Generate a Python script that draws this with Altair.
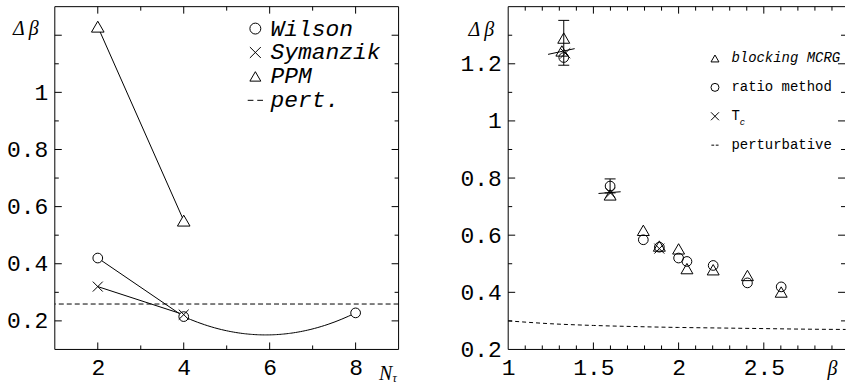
import altair as alt
import pandas as pd

# ---------------- left panel data ----------------
nt_wilson = [2, 4, 8]
wilson = [0.42, 0.215, 0.228]
nt_sym = [2, 4]
symanzik = [0.32, 0.222]
nt_ppm = [2, 4]
ppm = [1.23, 0.551]
pert_left = [0.259]

left_series = ["Wilson", "Symanzik", "PPM", "pert."]
left_x_labels = [2, 4, 6, 8]
left_y_labels = [0.2, 0.4, 0.6, 0.8, 1.0]
left_x_major = [2, 4, 6, 8]
left_x_minor = [3, 5, 7]
left_y_major = [0.2, 0.4, 0.6, 0.8, 1.0, 1.2]
left_y_minor = [0.3, 0.5, 0.7, 0.9, 1.1]

# ---------------- right panel data ----------------
mcrg_beta = [1.326, 1.315, 1.598, 1.793, 1.887, 2.0, 2.049, 2.203, 2.404, 2.602]
mcrg_val = [1.29, 1.245, 0.741, 0.617, 0.562, 0.552, 0.483, 0.479, 0.459, 0.401]
ratio_beta = [1.326, 1.598, 1.793, 1.887, 2.0, 2.049, 2.203, 2.404, 2.602]
ratio_val = [1.222, 0.772, 0.584, 0.558, 0.520, 0.508, 0.494, 0.433, 0.419]
tc_beta = [1.335, 1.6, 1.887]
tc_val = [1.237, 0.748, 0.553]
err_beta = [1.326, 1.598]
err_lo = [1.195, 0.748]
err_hi = [1.352, 0.797]
tcbar_b1 = [1.234, 1.53]
tcbar_b2 = [1.39, 1.66]
tcbar_v1 = [1.233, 0.746]
tcbar_v2 = [1.253, 0.752]
pert_beta = [1.0, 1.25, 1.5, 1.75, 2.0, 2.25, 2.5, 2.75, 2.98]
pert_val = [0.300, 0.290, 0.284, 0.280, 0.277, 0.275, 0.273, 0.271, 0.270]

right_series = ["blocking MCRG", "ratio method", "T", "perturbative"]
right_x_labels = [1, 1.5, 2, 2.5]
right_y_labels = [0.2, 0.4, 0.6, 0.8, 1.0, 1.2]
right_x_major = [1.5, 2.0, 2.5]
right_x_minor = [1.1, 1.2, 1.3, 1.4, 1.6, 1.7, 1.8, 1.9, 2.1, 2.2, 2.3, 2.4, 2.6, 2.7, 2.8, 2.9]
right_y_major = [0.4, 0.6, 0.8, 1.0, 1.2]
right_y_minor = [0.3, 0.5, 0.7, 0.9, 1.1, 1.3]

# ---------------- geometry / styles ----------------
LW, LH = 345, 344
RW, RH = 338, 344
MAJ, MIN = 7, 4

XPATH = "M-1,-1L1,1M1,-1L-1,1"
DASH_L = "M-1.4,0L-0.35,0M0.35,0L1.4,0"
DASH_R = "M-0.9,0L-0.2,0M0.2,0L0.9,0"

LX_SC = alt.Scale(domain=[1, 9], nice=False, zero=False)
LY_SC = alt.Scale(domain=[0.1, 1.3], nice=False, zero=False)
RX_SC = alt.Scale(domain=[1, 1 + RW / 171.0], nice=False, zero=False)
RY_SC = alt.Scale(domain=[0.2, 1.4], nice=False, zero=False)

LX_AX = alt.Axis(values=left_x_labels, format="~g", title="N", titleX=331.5, titleY=24)
LY_AX = alt.Axis(values=left_y_labels, format="~g", title="Δ\u2009β", titleX=-29.5, titleY=22)
RX_AX = alt.Axis(values=right_x_labels, format="~g", title="β", titleX=325, titleY=19)
RY_AX = alt.Axis(values=right_y_labels, format="~g", title="Δ\u2009β", titleX=-27.5, titleY=23)

L_SHAPE_SC = alt.Scale(domain=left_series, range=["circle", XPATH, "triangle-up", DASH_L])
R_SHAPE_SC = alt.Scale(domain=right_series, range=["triangle-up", "circle", XPATH, DASH_R])

L_LEG = alt.Legend(orient="none", legendX=189.75, legendY=10.5, title=None,
                   labelFont="Liberation Mono", labelFontSize=23, labelFontStyle="italic",
                   labelColor="black", symbolSize=120, rowPadding=0, labelOffset=3.75,
                   symbolStrokeColor="black", symbolFillColor="transparent", symbolOpacity=1,
                   symbolStrokeWidth=1, labelLimit=0, padding=0)
R_LEG = alt.Legend(orient="none", legendX=200.5, legendY=45, title=None,
                   labelFont="Liberation Mono", labelFontSize=14, labelColor="black",
                   symbolSize=64, rowPadding=15, labelOffset=9.5,
                   symbolStrokeColor="black", symbolFillColor="transparent", symbolOpacity=1,
                   symbolStrokeWidth=1, labelLimit=0, padding=0,
                   labelFontStyle=alt.ExprRef(expr="datum.label === 'blocking MCRG' ? 'italic' : 'normal'"))


def one():
    return alt.Chart(pd.DataFrame({"k": [0]}))


def frame(W, H, right=True):
    layers = [
        one().mark_rule(color="black", strokeWidth=1).encode(x=alt.value(0), x2=alt.value(W), y=alt.value(0)),
        one().mark_rule(color="black", strokeWidth=1).encode(x=alt.value(0), x2=alt.value(W), y=alt.value(H)),
        one().mark_rule(color="black", strokeWidth=1).encode(x=alt.value(0), y=alt.value(0), y2=alt.value(H)),
    ]
    if right:
        layers.append(one().mark_rule(color="black", strokeWidth=1).encode(x=alt.value(W), y=alt.value(0), y2=alt.value(H)))
    return layers


def xticks(vals, length, H, sc, ax):
    df = pd.DataFrame({"v": vals})
    b = alt.Chart(df).mark_rule(color="black", strokeWidth=1).encode(
        x=alt.X("v:Q", scale=sc, axis=ax), y=alt.value(H), y2=alt.value(H - length))
    t = alt.Chart(df).mark_rule(color="black", strokeWidth=1).encode(
        x=alt.X("v:Q", scale=sc, axis=ax), y=alt.value(0), y2=alt.value(length))
    return [b, t]


def yticks(vals, length, W, sc, ax):
    df = pd.DataFrame({"v": vals})
    l = alt.Chart(df).mark_rule(color="black", strokeWidth=1).encode(
        y=alt.Y("v:Q", scale=sc, axis=ax), x=alt.value(0), x2=alt.value(length))
    r = alt.Chart(df).mark_rule(color="black", strokeWidth=1).encode(
        y=alt.Y("v:Q", scale=sc, axis=ax), x=alt.value(W), x2=alt.value(W - length))
    return [l, r]


# ---------------- left chart ----------------
df_w = pd.DataFrame({"series": ["Wilson"] * len(nt_wilson), "nt": nt_wilson, "val": wilson})
df_s = pd.DataFrame({"series": ["Symanzik"] * len(nt_sym), "nt": nt_sym, "val": symanzik})
df_p = pd.DataFrame({"series": ["PPM"] * len(nt_ppm), "nt": nt_ppm, "val": ppm})
df_straight = pd.concat([df_w.iloc[:2], df_s, df_p], ignore_index=True)

left_lines = alt.Chart(df_straight).mark_line(color="black", strokeWidth=1).encode(
    x=alt.X("nt:Q", scale=LX_SC, axis=LX_AX),
    y=alt.Y("val:Q", scale=LY_SC, axis=LY_AX),
    detail="series:N",
)

wilson_fit = alt.Chart(df_w).transform_regression(
    "nt", "val", method="poly", order=2, extent=[4, 8]
).mark_line(color="black", strokeWidth=1).encode(
    x=alt.X("nt:Q", scale=LX_SC, axis=LX_AX),
    y=alt.Y("val:Q", scale=LY_SC, axis=LY_AX),
)

left_pert = alt.Chart(pd.DataFrame({"v": pert_left})).mark_rule(
    color="black", strokeWidth=1, strokeDash=[5, 3]).encode(
    y=alt.Y("v:Q", scale=LY_SC, axis=LY_AX))


def lbg(df, shape, size):
    # white backing so that the connecting lines stop at the marker outline
    return alt.Chart(df).mark_point(shape=shape, filled=True, color="white", opacity=1, size=size).encode(
        x=alt.X("nt:Q", scale=LX_SC, axis=LX_AX),
        y=alt.Y("val:Q", scale=LY_SC, axis=LY_AX),
    )


def lpts(df, size):
    return alt.Chart(df).mark_point(filled=False, stroke="black", strokeWidth=1, opacity=1, size=size).encode(
        x=alt.X("nt:Q", scale=LX_SC, axis=LX_AX),
        y=alt.Y("val:Q", scale=LY_SC, axis=LY_AX),
        shape=alt.Shape("series:N", scale=L_SHAPE_SC, legend=L_LEG),
    )


tau = one().mark_text(font="Liberation Serif", fontStyle="italic", fontSize=12, color="black").encode(
    x=alt.value(341), y=alt.value(373), text=alt.value("τ"))

left = alt.layer(
    *frame(LW, LH, True),
    *xticks(left_x_major, MAJ, LH, LX_SC, LX_AX), *xticks(left_x_minor, MIN, LH, LX_SC, LX_AX),
    *yticks(left_y_major, MAJ, LW, LY_SC, LY_AX), *yticks(left_y_minor, MIN, LW, LY_SC, LY_AX),
    left_pert, left_lines, wilson_fit,
    lbg(df_w, "circle", 95), lbg(df_p, "triangle-up", 160),
    lpts(df_w, 95), lpts(df_p, 160), lpts(df_s, 100), tau,
).properties(width=LW, height=LH)

# ---------------- right chart ----------------
df_m = pd.DataFrame({"method": ["blocking MCRG"] * len(mcrg_beta), "beta": mcrg_beta, "val": mcrg_val})
df_r = pd.DataFrame({"method": ["ratio method"] * len(ratio_beta), "beta": ratio_beta, "val": ratio_val})
df_t = pd.DataFrame({"method": ["T"] * len(tc_beta), "beta": tc_beta, "val": tc_val})
df_err = pd.DataFrame({"beta": err_beta, "lo": err_lo, "hi": err_hi})
df_tcbar = pd.DataFrame({"b1": tcbar_b1, "b2": tcbar_b2, "v1": tcbar_v1, "v2": tcbar_v2})
df_pert = pd.DataFrame({"beta": pert_beta, "val": pert_val})

r_pert = alt.Chart(df_pert).mark_line(color="black", strokeWidth=1, strokeDash=[4, 3], interpolate="monotone").encode(
    x=alt.X("beta:Q", scale=RX_SC, axis=RX_AX), y=alt.Y("val:Q", scale=RY_SC, axis=RY_AX))

r_err = alt.Chart(df_err).mark_rule(color="black", strokeWidth=1).encode(
    x=alt.X("beta:Q", scale=RX_SC, axis=RX_AX), y=alt.Y("lo:Q", scale=RY_SC, axis=RY_AX), y2="hi:Q")
r_cap_hi = alt.Chart(df_err).mark_tick(color="black", thickness=1, size=11, orient="horizontal", opacity=1).encode(
    x=alt.X("beta:Q", scale=RX_SC, axis=RX_AX), y=alt.Y("hi:Q", scale=RY_SC, axis=RY_AX))
r_cap_lo = alt.Chart(df_err).mark_tick(color="black", thickness=1, size=11, orient="horizontal", opacity=1).encode(
    x=alt.X("beta:Q", scale=RX_SC, axis=RX_AX), y=alt.Y("lo:Q", scale=RY_SC, axis=RY_AX))
r_tcbar = alt.Chart(df_tcbar).mark_rule(color="black", strokeWidth=1).encode(
    x=alt.X("b1:Q", scale=RX_SC, axis=RX_AX), x2="b2:Q",
    y=alt.Y("v1:Q", scale=RY_SC, axis=RY_AX), y2="v2:Q")


def rpts(df, size):
    return alt.Chart(df).mark_point(filled=False, stroke="black", strokeWidth=1, opacity=1, size=size).encode(
        x=alt.X("beta:Q", scale=RX_SC, axis=RX_AX),
        y=alt.Y("val:Q", scale=RY_SC, axis=RY_AX),
        shape=alt.Shape("method:N", scale=R_SHAPE_SC, legend=R_LEG),
    )


sub_c = one().mark_text(font="Liberation Mono", fontStyle="italic", fontSize=9, color="black").encode(
    x=alt.value(235), y=alt.value(116), text=alt.value("c"))

right = alt.layer(
    *frame(RW, RH, False),
    *xticks(right_x_major, MAJ, RH, RX_SC, RX_AX), *xticks(right_x_minor, MIN, RH, RX_SC, RX_AX),
    *yticks(right_y_major, MAJ, RW, RY_SC, RY_AX), *yticks(right_y_minor, MIN, RW, RY_SC, RY_AX),
    r_pert, r_err, r_cap_hi, r_cap_lo, r_tcbar,
    rpts(df_m, 144), rpts(df_r, 95), rpts(df_t, 100), sub_c,
).properties(width=RW, height=RH)

chart = alt.hconcat(left, right, spacing=110, bounds="flush").resolve_scale(
    shape="independent"
).resolve_legend(shape="independent").properties(
    padding={"left": 6, "top": 5, "right": 0, "bottom": 0},
    background="white",
).configure_view(stroke=None).configure_axis(
    domain=False, ticks=False, grid=False,
    labelFont="Liberation Mono", labelFontSize=23, labelColor="black", labelPadding=7,
    labelOverlap=False, labelFlush=False,
    titleFont="Liberation Serif", titleFontStyle="italic", titleFontWeight="normal",
    titleFontSize=20, titleColor="black", titleAngle=0, titleAlign="center", titleBaseline="middle",
)

chart.save("out.html", embed_options={"renderer": "svg", "actions": False})
